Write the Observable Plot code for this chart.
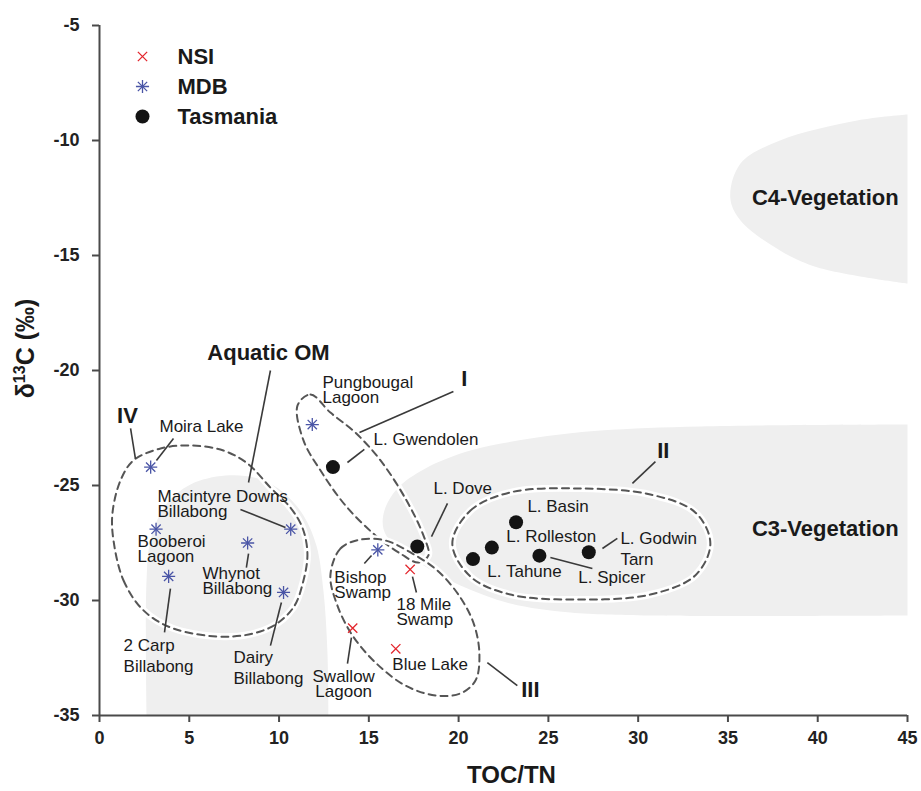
<!DOCTYPE html>
<html><head><meta charset="utf-8">
<script src="https://cdn.jsdelivr.net/npm/d3@7"></script>
<script src="https://cdn.jsdelivr.net/npm/@observablehq/plot@0.6"></script>
<style>
html,body{margin:0;padding:0;background:#fff;overflow:hidden;}
#chart svg{display:block;font-family:"Liberation Sans",Arial,Helvetica,sans-serif;}
#chart svg g[aria-label$="tick label"] text{font-weight:bold;font-size:18px;fill:#222;}
</style></head><body><div id="chart"></div>
<script>
// ---- axis ticks ----
const xTicks = [0, 5, 10, 15, 20, 25, 30, 35, 40, 45];
const yTicks = [-35, -30, -25, -20, -15, -10, -5];

// ---- samples (TOC/TN, δ13C ‰) ----
const nsi = [
  {name: "18 Mile Swamp", toc: 17.3, d13c: -28.65},
  {name: "Swallow Lagoon", toc: 14.1, d13c: -31.2},
  {name: "Blue Lake", toc: 16.5, d13c: -32.1}
];
const mdb = [
  {name: "Moira Lake", toc: 2.85, d13c: -24.2},
  {name: "Booberoi Lagoon", toc: 3.15, d13c: -26.9},
  {name: "2 Carp Billabong", toc: 3.85, d13c: -28.95},
  {name: "Whynot Billabong", toc: 8.25, d13c: -27.5},
  {name: "Macintyre Downs Billabong", toc: 10.65, d13c: -26.9},
  {name: "Dairy Billabong", toc: 10.25, d13c: -29.65},
  {name: "Pungbougal Lagoon", toc: 11.85, d13c: -22.35},
  {name: "Bishop Swamp", toc: 15.5, d13c: -27.8}
];
const tasmania = [
  {name: "L. Gwendolen", toc: 13.0, d13c: -24.2},
  {name: "L. Dove", toc: 17.7, d13c: -27.65},
  {name: "L. Basin", toc: 23.2, d13c: -26.6},
  {name: "L. Rolleston", toc: 21.85, d13c: -27.7},
  {name: "L. Tahune", toc: 20.8, d13c: -28.2},
  {name: "L. Spicer", toc: 24.5, d13c: -28.05},
  {name: "L. Godwin Tarn", toc: 27.25, d13c: -27.9}
];

// ---- shaded source regions (outline points, TOC/TN, δ13C) ----
const c4Region = [[45,-8.87],[42.2,-9.13],[37.9,-10.0],[35.7,-11.0],[35.13,-12.48],[35.7,-13.48],[37.9,-14.78],[40.0,-15.52],[45,-16.22]];
const c3Region = [[45,-22.35],[33.5,-22.43],[27.9,-22.61],[24.0,-22.96],[20.66,-23.48],[18.15,-24.26],[16.59,-25.13],[15.87,-26.09],[15.81,-26.87],[16.31,-27.52],[17.87,-28.39],[20.1,-29.35],[22.88,-30.13],[26.22,-30.52],[30.68,-30.65],[45,-30.65]];
const aquaticRegion = [[2.62,-35],[2.62,-29.13],[2.84,-27.39],[3.67,-25.87],[5.07,-24.96],[7.02,-24.57],[8.85,-24.7],[10.24,-25.3],[11.36,-26.3],[12.08,-27.61],[12.47,-29.57],[12.69,-32.17],[12.75,-35]];

// ---- dashed group outlines ----
const groupI = [[11.03,-21.52],[11.75,-21.04],[12.86,-21.83],[14.25,-22.7],[15.65,-23.91],[17.04,-25.57],[18.04,-27.17],[18.32,-28.04],[17.76,-28.35],[16.76,-27.96],[15.37,-27.17],[13.7,-25.87],[12.31,-24.35],[11.36,-23.04]];
const groupII = [[19.65,-27.52],[20.66,-26.09],[22.88,-25.3],[26.78,-25.13],[30.68,-25.39],[33.18,-26.17],[34.02,-27.52],[33.18,-28.91],[30.68,-29.74],[26.78,-29.96],[22.88,-29.74],[20.66,-28.96]];
const groupIII = [[12.86,-28.91],[13.42,-27.74],[14.53,-27.35],[15.92,-27.39],[17.32,-27.91],[18.82,-28.7],[20.1,-29.87],[20.88,-31.09],[21.16,-32.39],[20.94,-33.48],[20.1,-34.04],[18.71,-34.13],[17.04,-33.7],[15.37,-32.7],[14.09,-31.52],[13.25,-30.22]];
const groupIV = [[0.78,-27.39],[1.34,-29.13],[2.45,-30.43],[4.12,-31.22],[7.29,-31.57],[9.52,-31.17],[10.8,-30.3],[11.36,-29.13],[11.58,-27.96],[11.3,-26.83],[10.63,-25.96],[9.52,-25.09],[8.24,-24.04],[6.9,-23.48],[5.07,-23.26],[3.4,-23.39],[1.89,-23.91],[1.17,-24.78],[0.72,-26.22]];

// ---- annotation text (anchor point in data units; block centre) ----
const siteLabelsTight = [
  {t: "Pungbougal\nLagoon", x: 12.42, y: -20.87, a: "start"},
  {t: "L. Gwendolen", x: 15.26, y: -23.04, a: "start"},
  {t: "Moira Lake", x: 3.34, y: -22.48, a: "start"},
  {t: "Macintyre Downs\nBillabong", x: 3.23, y: -25.85, a: "start"},
  {t: "Booberoi\nLagoon", x: 2.12, y: -27.8, a: "start"},
  {t: "Whynot\nBillabong", x: 5.73, y: -29.17, a: "start"},
  {t: "Swallow\nLagoon", x: 13.6, y: -33.68, a: "middle"},
  {t: "Bishop\nSwamp", x: 13.08, y: -29.37, a: "start"},
  {t: "18 Mile\nSwamp", x: 16.54, y: -30.52, a: "start"},
  {t: "Blue Lake", x: 16.31, y: -32.83, a: "start"},
  {t: "L. Dove", x: 18.6, y: -25.17, a: "start"},
  {t: "L. Basin", x: 23.83, y: -25.96, a: "start"},
  {t: "L. Rolleston", x: 22.66, y: -27.26, a: "start"},
  {t: "L. Tahune", x: 21.6, y: -28.78, a: "start"},
  {t: "L. Spicer", x: 26.67, y: -29.04, a: "start"}
];
const siteLabelsLoose = [
  {t: "2 Carp\nBillabong", x: 1.34, y: -32.37, a: "start"},
  {t: "Dairy\nBillabong", x: 7.46, y: -32.87, a: "start"},
  {t: "L. Godwin\nTarn", x: 29.01, y: -27.72, a: "start"}
];
const groupLabels = [
  {t: "I", x: 20.32, y: -20.35},
  {t: "II", x: 31.4, y: -23.48},
  {t: "III", x: 24.0, y: -33.91},
  {t: "IV", x: 1.56, y: -21.96},
  {t: "Aquatic OM", x: 9.41, y: -19.22},
  {t: "C4-Vegetation", x: 40.42, y: -12.48},
  {t: "C3-Vegetation", x: 40.42, y: -26.87}
];
const leaders = [
  [1.73,-22.52,2.0,-23.83],
  [4.12,-22.96,3.17,-23.91],
  [9.52,-20.0,8.3,-24.87],
  [7.85,-26.04,10.36,-26.83],
  [8.3,-27.96,8.18,-28.57],
  [3.95,-29.48,3.62,-31.39],
  [10.13,-30.09,9.52,-31.96],
  [14.03,-31.61,13.81,-32.74],
  [21.6,-32.7,23.27,-33.7],
  [14.75,-28.39,15.15,-28.04],
  [17.43,-28.96,17.65,-29.65],
  [14.75,-23.43,13.81,-24.0],
  [19.71,-20.91,14.48,-22.7],
  [19.38,-25.78,18.49,-27.22],
  [30.96,-23.96,29.68,-24.91],
  [25.11,-28.13,27.45,-28.61],
  [28.01,-27.74,28.84,-27.3]
];
const legendNames = ["NSI", "MDB", "Tasmania"];

// ---- styles ----
const red = "#e3262d", blue = "#4a55a6", black = "#141414";
const gray = "#efefef", lineCol = "#4a4a4a";
const font = "Liberation Sans, Arial, Helvetica, sans-serif";

const outline = (pts) => [
  Plot.line(pts, {x: d => d[0], y: d => d[1], curve: "catmull-rom-closed", stroke: "#fff", strokeWidth: 7}),
  Plot.line(pts, {x: d => d[0], y: d => d[1], curve: "catmull-rom-closed", stroke: "#555", strokeWidth: 2, strokeDasharray: "7,5"})
];
const region = (pts) => Plot.line(pts, {x: d => d[0], y: d => d[1], curve: "catmull-rom", fill: gray, stroke: "none"});

const legendRowDy = [31, 61, 91];
const legendMarks = [];
legendNames.forEach((name, i) => {
  const dy = legendRowDy[i];
  if (i === 0) legendMarks.push(Plot.dot([0], {frameAnchor: "top-left", dx: 43, dy, symbol: "times", r: 4.3, stroke: red, strokeWidth: 1.3}));
  if (i === 1) {
    legendMarks.push(Plot.dot([0], {frameAnchor: "top-left", dx: 43, dy, symbol: "plus", r: 4.3, stroke: blue, strokeWidth: 1.3}));
    legendMarks.push(Plot.dot([0], {frameAnchor: "top-left", dx: 43, dy, symbol: "times", r: 4.3, stroke: blue, strokeWidth: 1.3}));
  }
  if (i === 2) legendMarks.push(Plot.dot([0], {frameAnchor: "top-left", dx: 43, dy, r: 7, fill: black, stroke: "none"}));
  legendMarks.push(Plot.text([name], {frameAnchor: "top-left", dx: 78, dy, text: d => d, textAnchor: "start", lineAnchor: "middle", fontSize: 22, fontWeight: "bold", fill: "#1a1a1a"}));
});

const siteText = (arr, anchor, lh) => Plot.text(arr.filter(d => d.a === anchor), {x: "x", y: "y", text: "t", textAnchor: anchor, lineAnchor: "middle", lineHeight: lh, fontSize: 17, fill: "#1a1a1a"});

const chart = Plot.plot({
  width: 921, height: 791,
  marginLeft: 99, marginRight: 14, marginTop: 25, marginBottom: 76,
  x: {domain: [0, 45], axis: null},
  y: {domain: [-35, -5], axis: null},
  style: {background: "#fff", fontFamily: font, color: "#222", overflow: "visible"},
  marks: [
    region(c4Region),
    region(c3Region),
    region(aquaticRegion),
    ...outline(groupIV),
    ...outline(groupI),
    ...outline(groupIII),
    ...outline(groupII),
    Plot.ruleX([0], {stroke: lineCol, strokeWidth: 2}),
    Plot.ruleY([-35], {stroke: lineCol, strokeWidth: 2}),
    Plot.axisX(xTicks, {tickSize: 7, tickPadding: 9, stroke: lineCol, strokeWidth: 2, fill: "#222", fontSize: 18, fontWeight: "bold", tickFormat: d => String(d), label: null}),
    Plot.axisY(yTicks, {tickSize: 7, tickPadding: 13, stroke: lineCol, strokeWidth: 2, fill: "#222", fontSize: 18, fontWeight: "bold", tickFormat: d => String(d), label: null}),
    Plot.link(leaders, {x1: d => d[0], y1: d => d[1], x2: d => d[2], y2: d => d[3], stroke: "#3a3a3a", strokeWidth: 1.6}),
    Plot.dot(nsi, {x: "toc", y: "d13c", symbol: "times", r: 4.3, stroke: red, strokeWidth: 1.3}),
    Plot.dot(mdb, {x: "toc", y: "d13c", symbol: "plus", r: 4.3, stroke: blue, strokeWidth: 1.3}),
    Plot.dot(mdb, {x: "toc", y: "d13c", symbol: "times", r: 4.3, stroke: blue, strokeWidth: 1.3}),
    Plot.dot(tasmania, {x: "toc", y: "d13c", r: 7, fill: black, stroke: "none"}),
    siteText(siteLabelsTight, "start", 0.88),
    siteText(siteLabelsTight, "middle", 0.88),
    siteText(siteLabelsLoose, "start", 1.22),
    Plot.text(groupLabels, {x: "x", y: "y", text: "t", textAnchor: "middle", lineAnchor: "middle", fontSize: 22, fontWeight: "bold", fill: "#1a1a1a"}),
    ...legendMarks,
    Plot.text(["TOC/TN"], {frameAnchor: "bottom", dx: 8, dy: 60, text: d => d, textAnchor: "middle", lineAnchor: "middle", fontSize: 24, fontWeight: "bold", fill: "#1a1a1a"}),
    Plot.text(["δ13C (‰)"], {frameAnchor: "left", dx: -74, dy: -22, rotate: -90, text: d => d, textAnchor: "middle", lineAnchor: "middle", fontSize: 25, fontWeight: "bold", fill: "#1a1a1a", className: "ylab"})
  ]
});
document.getElementById("chart").append(chart);
// superscript the isotope mass number in the y-axis title
const yl = chart.querySelector(".ylab text");
if (yl) {
  const txt = yl.textContent; // "δ13C (‰)"
  const ns = "http://www.w3.org/2000/svg";
  yl.textContent = "";
  const parts = [[txt.slice(0, 1), null], [txt.slice(1, 3), "sup"], [txt.slice(3), "back"]];
  for (const [s, kind] of parts) {
    const ts = document.createElementNS(ns, "tspan");
    ts.textContent = s;
    if (kind === "sup") { ts.setAttribute("font-size", "16"); ts.setAttribute("dy", "-9"); }
    if (kind === "back") { ts.setAttribute("dy", "9"); }
    yl.appendChild(ts);
  }
}
</script>
</body></html>
